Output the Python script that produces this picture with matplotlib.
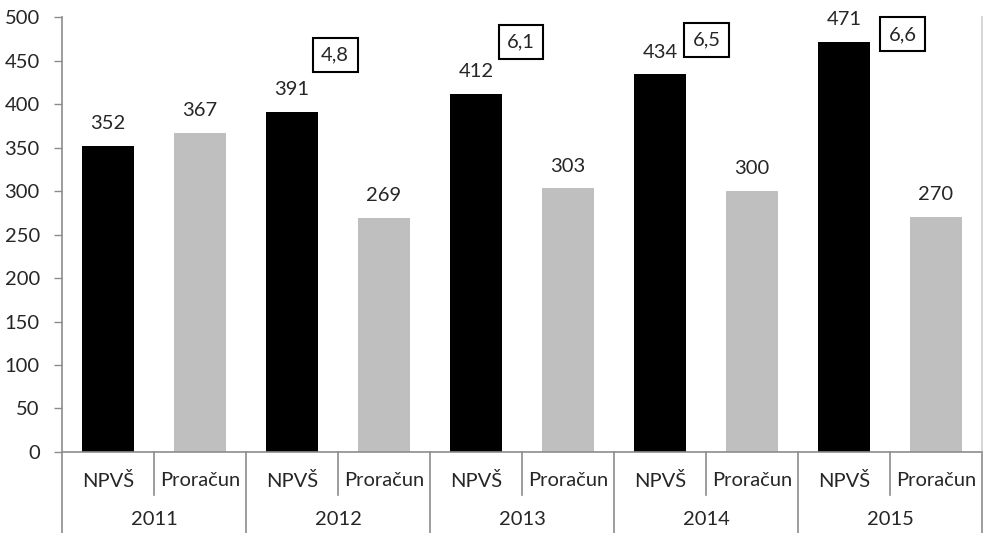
import numpy as np
import matplotlib
matplotlib.use("Agg")
import matplotlib.pyplot as plt
from matplotlib.transforms import blended_transform_factory

plt.rcParams['font.family'] = ['Lato', 'DejaVu Sans']

years = ['2011', '2012', '2013', '2014', '2015']
series = ['NPVŠ', 'Proračun']
npvs = [352, 391, 412, 434, 471]
proracun = [367, 269, 303, 300, 270]
ratio_labels = ['', '4,8', '6,1', '6,5', '6,6']

# placement of the boxed ratios (x offset from the NPVŠ slot, y in data units)
box_dx = [0, 0.47, 0.49, 0.51, 0.64]
box_y = [0, 456, 471, 474, 480]

text_col = '#262626'
axis_col = '#8c8c8c'
fs = 14.5

fig = plt.figure(figsize=(9.84, 5.33), dpi=100)
ax = fig.add_axes([0.063, 0.152, 0.935, 0.816])

x_npvs = np.arange(len(years)) * 2
x_pror = x_npvs + 1
w = 0.565

b1 = ax.bar(x_npvs, npvs, width=w, color='black')
b2 = ax.bar(x_pror, proracun, width=w, color='#bfbfbf')

for bars, vals in ((b1, npvs), (b2, proracun)):
    for rect, v in zip(bars, vals):
        ax.annotate(str(v), (rect.get_x() + rect.get_width() / 2, v),
                    xytext=(0, 10), textcoords='offset points',
                    ha='center', va='bottom', fontsize=fs, color=text_col)

for i, lab in enumerate(ratio_labels):
    if not lab:
        continue
    ax.text(x_npvs[i] + box_dx[i], box_y[i], lab, ha='center', va='center',
            fontsize=fs, color=text_col,
            bbox=dict(boxstyle='square,pad=0.42', fc='white', ec='black', lw=1.5))

ax.set_xlim(-0.5, len(years) * 2 - 0.5)
ax.set_ylim(0, 500)
ax.set_yticks(np.arange(0, 501, 50))
ax.tick_params(axis='y', length=6, width=1, color=axis_col, pad=10,
               labelsize=fs, labelcolor=text_col)
ax.set_xticks([])

ax.spines['top'].set_visible(False)
ax.spines['right'].set_color('#d0d0d0')
ax.spines['left'].set_color(axis_col)
ax.spines['bottom'].set_color(axis_col)
for s in ax.spines.values():
    s.set_linewidth(1.2)

# two-level category axis below the plot
trans = blended_transform_factory(ax.transData, ax.transAxes)
inner_end = -43 / 435
outer_end = -85 / 435
for i in range(len(years)):
    ax.plot([x_npvs[i] + 0.5] * 2, [0, inner_end], transform=trans,
            color=axis_col, lw=1.2, clip_on=False)
    ax.text(x_npvs[i], -29 / 435, series[0], transform=trans, ha='center',
            va='center', fontsize=fs, color=text_col)
    ax.text(x_pror[i], -29 / 435, series[1], transform=trans, ha='center',
            va='center', fontsize=fs, color=text_col)
    ax.text(x_npvs[i] + 0.5, -68 / 435, years[i], transform=trans,
            ha='center', va='center', fontsize=fs, color=text_col)
for xb in np.arange(len(years) + 1) * 2 - 0.5:
    ax.plot([xb, xb], [0, outer_end], transform=trans,
            color=axis_col, lw=1.2, clip_on=False)

fig.savefig('out.png', dpi=100)
